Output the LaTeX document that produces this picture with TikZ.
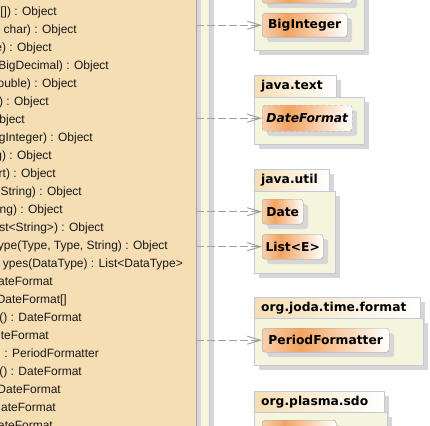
\documentclass[tikz,border=0pt]{standalone}
\usepackage{fontspec}
\setmainfont{Liberation Sans}
\newfontfamily\pkgfont{DejaVu Sans}[BoldFont={DejaVu Sans Bold},BoldItalicFont={DejaVu Sans Bold Oblique}]
\usepackage{tikz}
\usetikzlibrary{arrows.meta}
\usetikzlibrary{shadows}
\definecolor{wheat}{HTML}{F5DEB3}
\definecolor{pkgfill}{HTML}{F5F4DC}
\definecolor{pkgline}{HTML}{C3C9DB}
\definecolor{classline}{HTML}{A3A3A3}
\definecolor{shadegray}{HTML}{D6D6D6}
\definecolor{classlight}{HTML}{F7CFAE}
\definecolor{classdeep}{HTML}{F2A461}
\definecolor{depgray}{HTML}{A0A0A0}
\pgfdeclarehorizontalshading{classfill}{100bp}{color(0bp)=(classlight); color(25bp)=(classlight); color(40bp)=(classdeep); color(75bp)=(white); color(100bp)=(white)}

\begin{document}
\begin{tikzpicture}[x=1pt,y=-1pt,>={Straight Barb[length=13pt,width=8pt]},
  boxshadow/.style={drop shadow={shadow xshift=5pt,shadow yshift=-5pt,fill=shadegray,opacity=1}},
  pkgtab/.style={draw=pkgline,left color=wheat,right color=white,anchor=north west,boxshadow,
    inner xsep=7pt,inner ysep=0pt,minimum height=22pt,align=left,font=\pkgfont\bfseries\fontsize{12.3}{14}\selectfont},
  pkgbody/.style={draw=pkgline,fill=pkgfill,anchor=north west,inner sep=0pt,boxshadow},
  classbox/.style={draw=classline,rounded corners=3pt,shade,shading=classfill,anchor=north west,boxshadow,
    minimum height=25pt,inner sep=0pt,font=\pkgfont\bfseries\fontsize{12.3}{14}\selectfont},
  abstract/.style={dashed,font=\pkgfont\bfseries\itshape\fontsize{12.3}{14}\selectfont},
  bigclass/.style={draw=classline,fill=wheat,anchor=north west,inner sep=0pt,boxshadow},
  member/.style={anchor=base east,inner sep=0pt,text=black!90,font=\fontsize{12}{14}\selectfont},
  dep/.style={->,draw=depgray,line width=1pt,dash pattern=on 8pt off 3pt}]

\useasboundingbox (0,0) rectangle (430,425);
\clip (0,0) rectangle (430,425);

% client class, cut at the left
\node[pkgbody,minimum width=239pt,minimum height=480pt] (leftpkg) at (-30,-25) {};
\node[bigclass,minimum width=226pt,minimum height=480pt] (client) at (-30,-25) {};

\foreach \yy/\xx/\txt [count=\i] in {
  11/57/{e[]) : Object},
  29/77/{, char) : Object},
  47/52/{e) : Object},
  65/109/{BigDecimal) : Object},
  83/77/{ouble) : Object},
  101/49/{c) : Object},
  119/25/{Object},
  137/93/{gInteger) : Object},
  155/52/{g) : Object},
  173/56/{rt) : Object},
  191/82/{, String) : Object},
  209/63/{ng) : Object},
  227/104/{st<String>) : Object},
  245/168/{ype(Type, Type, String) : Object},
  263/183/{ypes(DataType) : List<DataType>},
  281/53/{ateFormat},
  299/67/{DateFormat[]},
  317/82/{() : DateFormat},
  335/49/{teFormat},
  353/99/{) : PeriodFormatter},
  371/82/{() : DateFormat},
  389/61/{DateFormat},
  407/56/{ateFormat},
  425/53/{ateFormat}}{
  \node[member] (op\i) at (\xx,\yy+4.5) {\txt};
}

% java.math
\node[pkgbody,minimum width=110pt,minimum height=90pt] (mathpkg) at (254,-40) {};
\node[classbox,minimum width=90pt] (bigdec) at (262,-22) {};
\node[classbox,minimum width=85pt,minimum height=24pt] (bigint) at (262,13) {BigInteger};

% java.text
\node[pkgtab,text width=68pt] (texttab) at (254,75) {java.text};
\node[pkgbody,minimum width=110pt,minimum height=47pt] (textpkg) at (254,97) {};
\node[classbox,abstract,minimum width=90pt,minimum height=26pt] (datefmt) at (262,105) {DateFormat};

% java.util
\node[pkgtab,text width=61pt] (utiltab) at (254,169) {java.util};
\node[pkgbody,minimum width=81pt,minimum height=82pt] (utilpkg) at (254,191) {};
\node[classbox,minimum width=41pt] (date) at (262,199) {Date};
\node[classbox,minimum width=61pt] (list) at (262,234) {List<E>};

% org.joda.time.format
\node[pkgtab,text width=152pt,minimum height=21pt] (jodatab) at (254,297) {org.joda.time.format};
\node[pkgbody,minimum width=169pt,minimum height=47pt] (jodapkg) at (254,318) {};
\node[classbox,minimum width=127pt,minimum height=24pt] (periodfmt) at (262,328) {PeriodFormatter};

% org.plasma.sdo
\node[pkgtab,text width=116pt,minimum height=21pt] (sdotab) at (254,391) {org.plasma.sdo};
\node[pkgbody,minimum width=133pt,minimum height=60pt] (sdopkg) at (254,412) {};
\node[classbox,minimum width=74pt] (sdoclass) at (262,420) {};

% dependencies
\foreach \t in {bigint,datefmt,date,list,periodfmt}
  \draw[dep] (client.east |- \t.west) -- (\t.west);

\end{tikzpicture}
\end{document}
